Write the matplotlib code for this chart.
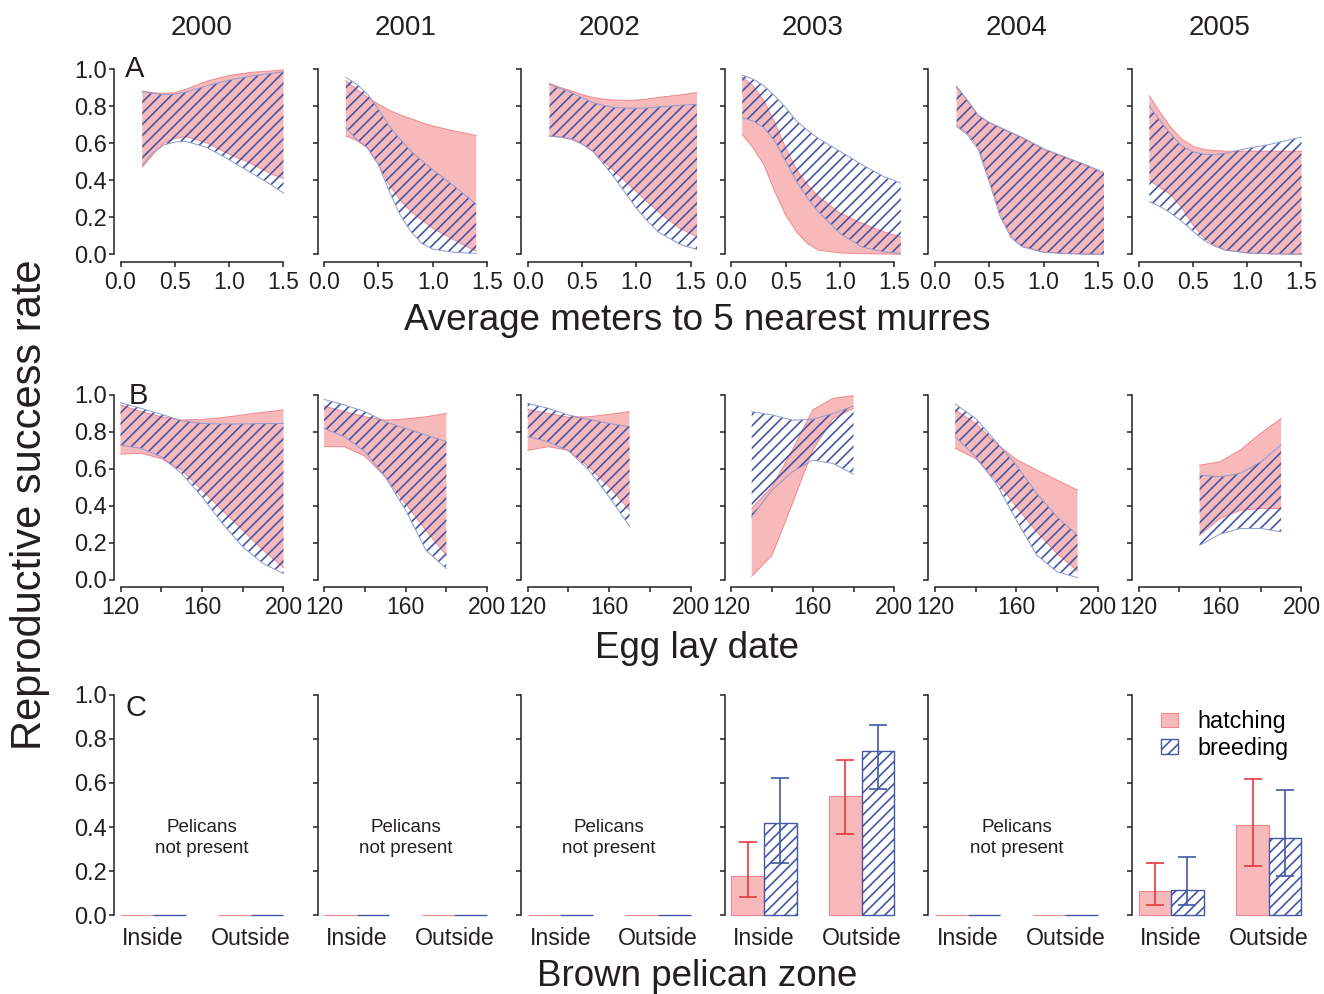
import numpy as np
import matplotlib.pyplot as plt
from matplotlib.patches import Patch

plt.rcParams['font.family'] = ['Liberation Sans', 'DejaVu Sans']
plt.rcParams['hatch.linewidth'] = 1.2

INK = '#231f20'
PINK = '#f8b9bb'
PINK_EDGE = '#f2868b'
BLUE = '#4357a6'
BLUE_EDGE = '#8e9bd0'
RED_ERR = '#e5383e'

years = ['2000', '2001', '2002', '2003', '2004', '2005']

# --- A: average meters to 5 nearest murres ---
dist_x = [
    [0.2, 0.3, 0.4, 0.5, 0.6, 0.8, 1.0, 1.2, 1.4, 1.5],
    [0.2, 0.3, 0.4, 0.5, 0.6, 0.7, 0.8, 0.9, 1.0, 1.2, 1.4],
    [0.2, 0.3, 0.4, 0.5, 0.6, 0.7, 0.8, 0.9, 1.0, 1.1, 1.2, 1.4, 1.56],
    [0.1, 0.2, 0.3, 0.4, 0.5, 0.6, 0.7, 0.8, 1.0, 1.2, 1.4, 1.56],
    [0.2, 0.3, 0.4, 0.5, 0.6, 0.7, 0.8, 1.0, 1.2, 1.4, 1.56],
    [0.1, 0.2, 0.3, 0.4, 0.5, 0.6, 0.7, 0.8, 1.0, 1.2, 1.5],
]
dist_hatch_hi = [
    [0.88, 0.872, 0.868, 0.872, 0.89, 0.935, 0.965, 0.982, 0.99, 0.995],
    [0.937, 0.89, 0.846, 0.81, 0.777, 0.752, 0.732, 0.71, 0.692, 0.665, 0.641],
    [0.922, 0.9, 0.882, 0.862, 0.846, 0.837, 0.832, 0.831, 0.832, 0.838, 0.846, 0.86, 0.873],
    [0.955, 0.909, 0.828, 0.71, 0.574, 0.457, 0.375, 0.312, 0.221, 0.167, 0.121, 0.094],
    [0.906, 0.828, 0.746, 0.71, 0.683, 0.656, 0.629, 0.565, 0.52, 0.475, 0.433],
    [0.855, 0.764, 0.683, 0.62, 0.583, 0.565, 0.56, 0.556, 0.556, 0.556, 0.556],
]
dist_hatch_lo = [
    [0.47, 0.54, 0.60, 0.625, 0.635, 0.60, 0.54, 0.49, 0.43, 0.41],
    [0.638, 0.614, 0.574, 0.484, 0.375, 0.293, 0.23, 0.185, 0.14, 0.076, 0.016],
    [0.638, 0.632, 0.62, 0.595, 0.556, 0.50, 0.447, 0.393, 0.339, 0.283, 0.23, 0.14, 0.094],
    [0.647, 0.574, 0.484, 0.339, 0.212, 0.121, 0.058, 0.022, 0.007, 0.003, 0.001, 0.0],
    [0.695, 0.655, 0.58, 0.41, 0.225, 0.10, 0.045, 0.012, 0.004, 0.001, 0.0],
    [0.40, 0.36, 0.32, 0.25, 0.16, 0.09, 0.05, 0.022, 0.007, 0.002, 0.0],
]
dist_breed_hi = [
    [0.878, 0.868, 0.862, 0.864, 0.875, 0.91, 0.94, 0.962, 0.978, 0.985],
    [0.955, 0.918, 0.864, 0.783, 0.692, 0.62, 0.556, 0.505, 0.456, 0.366, 0.27],
    [0.918, 0.895, 0.873, 0.845, 0.819, 0.803, 0.792, 0.789, 0.788, 0.79, 0.795, 0.804, 0.81],
    [0.967, 0.946, 0.909, 0.855, 0.792, 0.719, 0.67, 0.625, 0.556, 0.484, 0.42, 0.384],
    [0.906, 0.83, 0.75, 0.712, 0.685, 0.658, 0.632, 0.57, 0.525, 0.48, 0.44],
    [0.80, 0.719, 0.647, 0.583, 0.553, 0.54, 0.538, 0.545, 0.571, 0.592, 0.632],
]
dist_breed_lo = [
    [0.48, 0.55, 0.59, 0.605, 0.61, 0.575, 0.51, 0.44, 0.37, 0.33],
    [0.683, 0.62, 0.574, 0.484, 0.339, 0.212, 0.121, 0.058, 0.027, 0.01, 0.004],
    [0.638, 0.632, 0.625, 0.595, 0.556, 0.485, 0.411, 0.33, 0.248, 0.18, 0.121, 0.053, 0.025],
    [0.737, 0.719, 0.683, 0.611, 0.502, 0.393, 0.303, 0.23, 0.112, 0.04, 0.013, 0.004],
    [0.69, 0.645, 0.565, 0.39, 0.205, 0.09, 0.04, 0.01, 0.003, 0.0, 0.0],
    [0.284, 0.257, 0.221, 0.176, 0.125, 0.076, 0.043, 0.022, 0.007, 0.002, 0.0],
]

# --- B: egg lay date ---
lay_x = [
    [120, 130, 140, 150, 160, 170, 180, 190, 200],
    [120, 130, 140, 150, 160, 170, 180],
    [120, 130, 140, 150, 160, 170],
    [130, 140, 150, 160, 170, 180],
    [130, 140, 150, 160, 170, 180, 190],
    [150, 160, 170, 180, 190],
]
lay_hatch_hi = [
    [0.946, 0.91, 0.882, 0.864, 0.868, 0.877, 0.892, 0.906, 0.919],
    [0.94, 0.91, 0.882, 0.864, 0.87, 0.882, 0.9],
    [0.922, 0.9, 0.879, 0.882, 0.895, 0.91],
    [0.385, 0.503, 0.702, 0.919, 0.982, 0.996],
    [0.919, 0.846, 0.738, 0.651, 0.593, 0.539, 0.485],
    [0.62, 0.638, 0.702, 0.792, 0.873],
]
lay_hatch_lo = [
    [0.68, 0.684, 0.656, 0.593, 0.485, 0.376, 0.268, 0.159, 0.065],
    [0.72, 0.72, 0.669, 0.557, 0.412, 0.268, 0.132],
    [0.70, 0.72, 0.70, 0.611, 0.503, 0.376],
    [0.018, 0.132, 0.412, 0.702, 0.873, 0.928],
    [0.711, 0.656, 0.539, 0.394, 0.259, 0.141, 0.047],
    [0.24, 0.331, 0.376, 0.385, 0.385],
]
lay_breed_hi = [
    [0.958, 0.928, 0.895, 0.861, 0.846, 0.843, 0.843, 0.845, 0.846],
    [0.976, 0.946, 0.91, 0.855, 0.819, 0.783, 0.747],
    [0.955, 0.928, 0.892, 0.868, 0.846, 0.828],
    [0.91, 0.892, 0.864, 0.868, 0.9, 0.94],
    [0.951, 0.873, 0.747, 0.62, 0.467, 0.34, 0.24],
    [0.566, 0.557, 0.575, 0.638, 0.729],
]
lay_breed_lo = [
    [0.729, 0.711, 0.665, 0.575, 0.448, 0.304, 0.177, 0.087, 0.033],
    [0.819, 0.774, 0.693, 0.557, 0.376, 0.159, 0.06],
    [0.774, 0.747, 0.698, 0.593, 0.448, 0.289],
    [0.34, 0.485, 0.584, 0.647, 0.629, 0.571],
    [0.774, 0.665, 0.521, 0.322, 0.132, 0.042, 0.011],
    [0.186, 0.246, 0.277, 0.277, 0.259],
]

# --- C: brown pelican zone ---
zone_labels = ['Inside', 'Outside']
pelicans_present = [False, False, False, True, False, True]
zone_hatch = [[0, 0], [0, 0], [0, 0], [0.177, 0.542], [0, 0], [0.111, 0.408]]
zone_hatch_lo = [None, None, None, [0.082, 0.368], None, [0.045, 0.224]]
zone_hatch_hi = [None, None, None, [0.333, 0.706], None, [0.239, 0.62]]
zone_breed = [[0, 0], [0, 0], [0, 0], [0.417, 0.745], [0, 0], [0.115, 0.352]]
zone_breed_lo = [None, None, None, [0.235, 0.574], None, [0.045, 0.179]]
zone_breed_hi = [None, None, None, [0.624, 0.865], None, [0.262, 0.568]]

W, H = 1324, 994
fig = plt.figure(figsize=(W / 100, H / 100), dpi=100)


def px_axes(left, top, width, height):
    return fig.add_axes([left / W, 1 - (top + height) / H, width / W, height / H])


def style_axes(ax, first):
    ax.spines['top'].set_visible(False)
    ax.spines['right'].set_visible(False)
    for s in ['left', 'bottom']:
        ax.spines[s].set_linewidth(1.1)
        ax.spines[s].set_color(INK)
    ax.set_ylim(-0.04, 1.04)
    ax.spines['left'].set_bounds(0, 1)
    yt = [0, 0.2, 0.4, 0.6, 0.8, 1.0]
    ax.set_yticks(yt)
    ax.set_yticklabels(['%.1f' % v for v in yt] if first else [])
    ax.tick_params(axis='both', direction='out', length=3.8, width=1.1,
                   color=INK, labelcolor=INK, labelsize=17)
    ax.tick_params(axis='y', pad=1)
    ax.tick_params(axis='x', pad=3)


def draw_bands(ax, x, h_lo, h_hi, b_lo, b_hi):
    ax.fill_between(x, h_lo, h_hi, facecolor=PINK, edgecolor='none', zorder=1)
    ax.plot(x, h_hi, color=PINK_EDGE, lw=0.7, zorder=1.5)
    ax.plot(x, h_lo, color=PINK_EDGE, lw=0.7, zorder=1.5)
    ax.fill_between(x, b_lo, b_hi, facecolor='none', edgecolor=BLUE,
                    hatch='///', linewidth=0, zorder=2)
    ax.plot(x, b_hi, color=BLUE_EDGE, lw=0.7, zorder=2.5)
    ax.plot(x, b_lo, color=BLUE_EDGE, lw=0.7, zorder=2.5)


col_left = [114 + i * 203.6 for i in range(6)]
panel_w = 176

for i, yr in enumerate(years):
    # row A
    ax = px_axes(col_left[i], 61.6, panel_w, 200)
    style_axes(ax, i == 0)
    draw_bands(ax, dist_x[i], dist_hatch_lo[i], dist_hatch_hi[i],
               dist_breed_lo[i], dist_breed_hi[i])
    ax.set_xlim(-0.06, 1.56)
    ax.set_xticks([0, 0.5, 1.0, 1.5])
    ax.set_xticklabels(['0.0', '0.5', '1.0', '1.5'])
    ax.tick_params(axis='x', labelsize=16.5)
    ax.spines['bottom'].set_bounds(0, 1.5)
    if i == 0:
        ax.text(0.063, 0.962, 'A', transform=ax.transAxes, fontsize=21,
                color=INK, va='center', ha='left')
    fig.text((col_left[i] + panel_w / 2) / W, 1 - 28 / H, yr, fontsize=20,
             color=INK, ha='center', va='center')

    # row B
    ax = px_axes(col_left[i], 387.6, panel_w, 199.4)
    style_axes(ax, i == 0)
    draw_bands(ax, lay_x[i], lay_hatch_lo[i], lay_hatch_hi[i],
               lay_breed_lo[i], lay_breed_hi[i])
    ax.set_xlim(116.8, 203.2)
    ax.set_xticks([120, 140, 160, 180, 200])
    ax.set_xticklabels(['120', '', '160', '', '200'])
    ax.tick_params(axis='x', labelsize=16.5)
    ax.spines['bottom'].set_bounds(120, 200)
    if i == 0:
        ax.text(0.085, 0.958, 'B', transform=ax.transAxes, fontsize=21,
                color=INK, va='center', ha='left')

    # row C
    ax = px_axes(col_left[i], 686, panel_w, 238)
    style_axes(ax, i == 0)
    ax.spines['bottom'].set_visible(False)
    group_left = np.array([1.0, 4.0])
    ax.bar(group_left, zone_hatch[i], width=1, align='edge', color=PINK,
           edgecolor=PINK_EDGE, linewidth=0.8, zorder=2)
    ax.bar(group_left + 1, zone_breed[i], width=1, align='edge', color='white',
           edgecolor=BLUE, hatch='///', linewidth=1.0, zorder=2)
    if pelicans_present[i]:
        m = np.array(zone_hatch[i])
        ax.errorbar(group_left + 0.5, m,
                    yerr=[m - np.array(zone_hatch_lo[i]), np.array(zone_hatch_hi[i]) - m],
                    fmt='none', ecolor=RED_ERR, elinewidth=1.2, capsize=6.5,
                    capthick=1.2, zorder=3)
        m = np.array(zone_breed[i])
        ax.errorbar(group_left + 1.5, m,
                    yerr=[m - np.array(zone_breed_lo[i]), np.array(zone_breed_hi[i]) - m],
                    fmt='none', ecolor=BLUE, elinewidth=1.2, capsize=6.5,
                    capthick=1.2, zorder=3)
    else:
        ax.text(3.5, 0.35, 'Pelicans\nnot present', fontsize=13.5, color=INK,
                ha='center', va='center', linespacing=1.25)
    ax.set_xlim(0.8, 6.2)
    ax.set_xticks(group_left + 1)
    ax.set_xticklabels(zone_labels)
    ax.tick_params(axis='x', length=0, pad=2, labelsize=16.7)
    if i == 0:
        ax.text(0.063, 0.908, 'C', transform=ax.transAxes, fontsize=21,
                color=INK, va='center', ha='left')
    if i == 5:
        handles = [Patch(facecolor=PINK, edgecolor=PINK_EDGE, linewidth=0.8),
                   Patch(facecolor='white', edgecolor=BLUE, hatch='///', linewidth=1.0)]
        ax.legend(handles, ['hatching', 'breeding'], loc='upper left',
                  bbox_to_anchor=(1161 / W, 1 - 710 / H), bbox_transform=fig.transFigure,
                  frameon=False, fontsize=16.8, handlelength=0.72, handleheight=0.57,
                  handletextpad=0.86, labelspacing=0.16, borderpad=0, borderaxespad=0)

fig.text(697 / W, 1 - 320 / H, 'Average meters to 5 nearest murres', fontsize=26.5,
         color=INK, ha='center', va='center')
fig.text(697 / W, 1 - 648 / H, 'Egg lay date', fontsize=26.5,
         color=INK, ha='center', va='center')
fig.text(697 / W, 1 - 976 / H, 'Brown pelican zone', fontsize=26.5,
         color=INK, ha='center', va='center')
fig.text(30 / W, 1 - 505 / H, 'Reproductive success rate', fontsize=30,
         color=INK, ha='center', va='center', rotation=90)

fig.savefig('out.png', dpi=100)
